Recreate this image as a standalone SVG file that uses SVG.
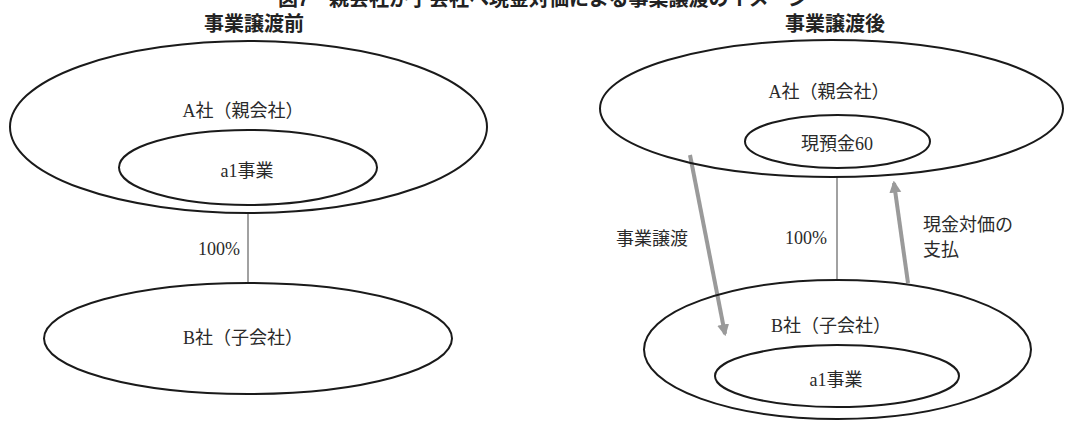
<svg xmlns="http://www.w3.org/2000/svg" width="1067" height="421" viewBox="0 0 1067 421">
<defs>
<style>
.bg{fill:#fff}
.ell{fill:none;stroke:#1a1a1a;stroke-width:2}
.lbl{font-family:"Liberation Serif","Noto Sans CJK JP",serif;font-size:18px;fill:#2a2a2a;text-anchor:middle}
.hd{font-family:"Liberation Sans","Noto Sans CJK JP",sans-serif;font-size:20px;font-weight:bold;fill:#222;text-anchor:middle}
.own{stroke:#8a8a8a;stroke-width:1.6;fill:none}
.arr{stroke:#9a9a9a;stroke-width:4;fill:none;marker-end:url(#ah)}
</style>
<marker id="ah" viewBox="0 0 10 10" refX="8" refY="5" markerWidth="3" markerHeight="4" orient="auto" markerUnits="strokeWidth">
<path d="M0,0 L10,5 L0,10 z" fill="#9a9a9a"/>
</marker>
</defs>
<rect class="bg" x="0" y="0" width="1067" height="421"/>
<text class="hd" x="543" y="6">図7　親会社が子会社へ現金対価による事業譲渡のイメージ</text>
<text class="hd" x="254" y="31">事業譲渡前</text>
<text class="hd" x="835" y="31">事業譲渡後</text>

<g id="connectors">
<line class="own" x1="248" y1="213" x2="248" y2="283"/>
<line class="own" x1="837" y1="177" x2="837" y2="280"/>
<line class="arr" x1="690" y1="155" x2="725" y2="334"/>
<line class="arr" x1="908" y1="283" x2="894" y2="183"/>
</g>
<g id="labels">
<text class="lbl" x="240" y="255" text-anchor="end" style="text-anchor:end">100%</text>
<text class="lbl" x="827" y="244" style="text-anchor:end">100%</text>
<text class="lbl" x="652" y="245">事業譲渡</text>
<text class="lbl" x="923" y="231" style="text-anchor:start">現金対価の</text>
<text class="lbl" x="923" y="256" style="text-anchor:start">支払</text>
</g>

<g id="left-A">
<ellipse class="ell" cx="248.5" cy="127" rx="238.5" ry="86"/>
<text class="lbl" x="243" y="117">A社（親会社）</text>
</g>
<g id="left-a1">
<ellipse class="ell" cx="248" cy="167.5" rx="129" ry="37.5"/>
<text class="lbl" x="247" y="177">a1事業</text>
</g>
<g id="left-B">
<ellipse class="ell" cx="248" cy="338.5" rx="204" ry="55.5"/>
<text class="lbl" x="243" y="344">B社（子会社）</text>
</g>

<g id="right-A">
<ellipse class="ell" cx="831.5" cy="108.5" rx="231.5" ry="68.5"/>
<text class="lbl" x="829" y="98">A社（親会社）</text>
</g>
<g id="right-cash">
<ellipse class="ell" cx="837.5" cy="141.5" rx="92.5" ry="26.5"/>
<text class="lbl" x="837" y="150">現預金60</text>
</g>
<g id="right-B">
<ellipse class="ell" cx="837.5" cy="349.5" rx="193.5" ry="69.5"/>
<text class="lbl" x="831" y="332">B社（子会社）</text>
</g>
<g id="right-a1">
<ellipse class="ell" cx="837" cy="376" rx="122" ry="31"/>
<text class="lbl" x="836" y="386">a1事業</text>
</g>
</svg>
